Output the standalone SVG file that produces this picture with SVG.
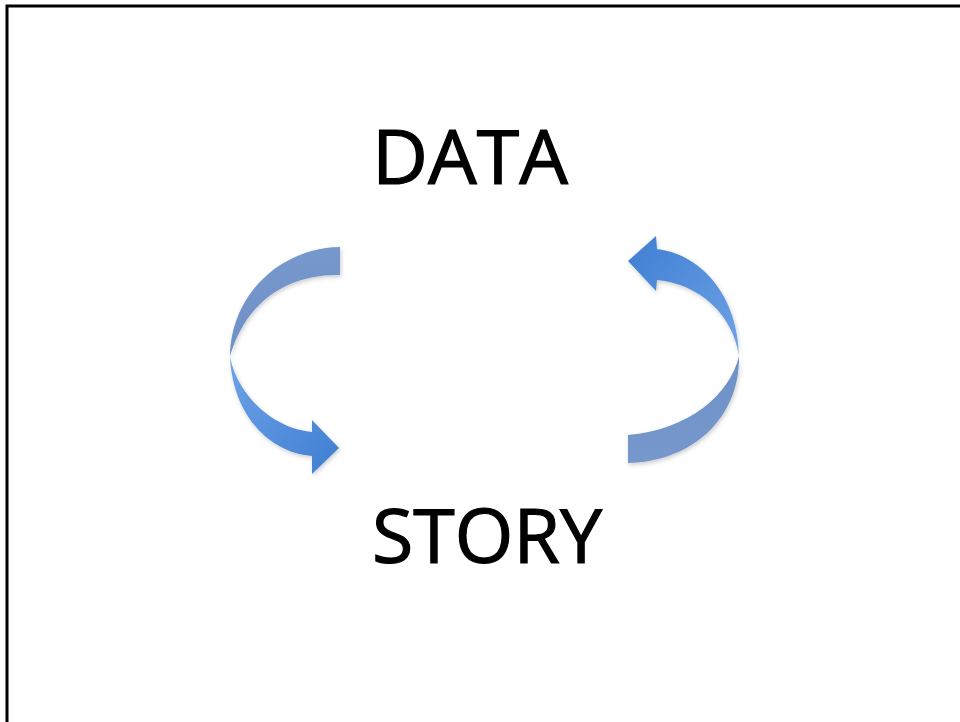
<svg xmlns="http://www.w3.org/2000/svg" width="960" height="722" viewBox="0 0 960 722">
  <defs>
    <style>
      .label { font-family: "Open Sans", "Noto Sans", "Liberation Sans", sans-serif; font-size: 75px; fill: #000; stroke: #000; stroke-width: 1.2; }
      .frame { fill: none; stroke: #000; stroke-width: 3; }
    </style>
    <linearGradient id="gDull" x1="0" y1="0" x2="0" y2="1">
      <stop offset="0" stop-color="#7798cc"/>
      <stop offset="1" stop-color="#6d90c8"/>
    </linearGradient>
    <linearGradient id="gLeftLow" x1="0" y1="0" x2="1" y2="1">
      <stop offset="0" stop-color="#6ea3e6"/>
      <stop offset="1" stop-color="#3f7ed2"/>
    </linearGradient>
    <linearGradient id="gRightUp" x1="0" y1="0" x2="1" y2="1">
      <stop offset="0" stop-color="#3f7ed2"/>
      <stop offset="1" stop-color="#6ea3e6"/>
    </linearGradient>
    <linearGradient id="gDull2" x1="0" y1="1" x2="0" y2="0">
      <stop offset="0" stop-color="#7798cc"/>
      <stop offset="1" stop-color="#6d90c8"/>
    </linearGradient>
    <filter id="sh" x="-20%" y="-20%" width="140%" height="140%">
      <feDropShadow dx="1" dy="2" stdDeviation="2" flood-color="#000" flood-opacity="0.2"/>
    </filter>
  </defs>

  <rect width="960" height="722" fill="#fff"/>
  <rect class="frame" x="7" y="6" width="970" height="730"/>

  <g id="node-data">
    <text class="label" x="470" y="184" text-anchor="middle" textLength="196" lengthAdjust="spacingAndGlyphs">DATA</text>
  </g>
  <g id="node-story">
    <text class="label" x="487" y="563" text-anchor="middle" textLength="230" lengthAdjust="spacingAndGlyphs">STORY</text>
  </g>

  <g id="connectors" filter="url(#sh)">
    <g id="arrow-data-to-story">
      <path d="M340,247 C280,248 231,295 230,356 C248,295 295,274 340,275 Z" fill="url(#gDull)"/>
      <path d="M230,356 C232,410 265,452 312,456 L312,474 L339,448 L312,420 L312,432 C270,428 236,392 230,356 Z" fill="url(#gLeftLow)"/>
    </g>
    <g id="arrow-story-to-data">
      <path d="M657,249 L656,236 L628,261 L656,291 L657,280 C700,284 733,315 739,356 C738,300 705,255 657,249 Z" fill="url(#gRightUp)"/>
      <path d="M739,356 C740,420 690,462 628,463 L628,435 C688,430 730,395 739,356 Z" fill="url(#gDull2)"/>
    </g>
  </g>
</svg>
